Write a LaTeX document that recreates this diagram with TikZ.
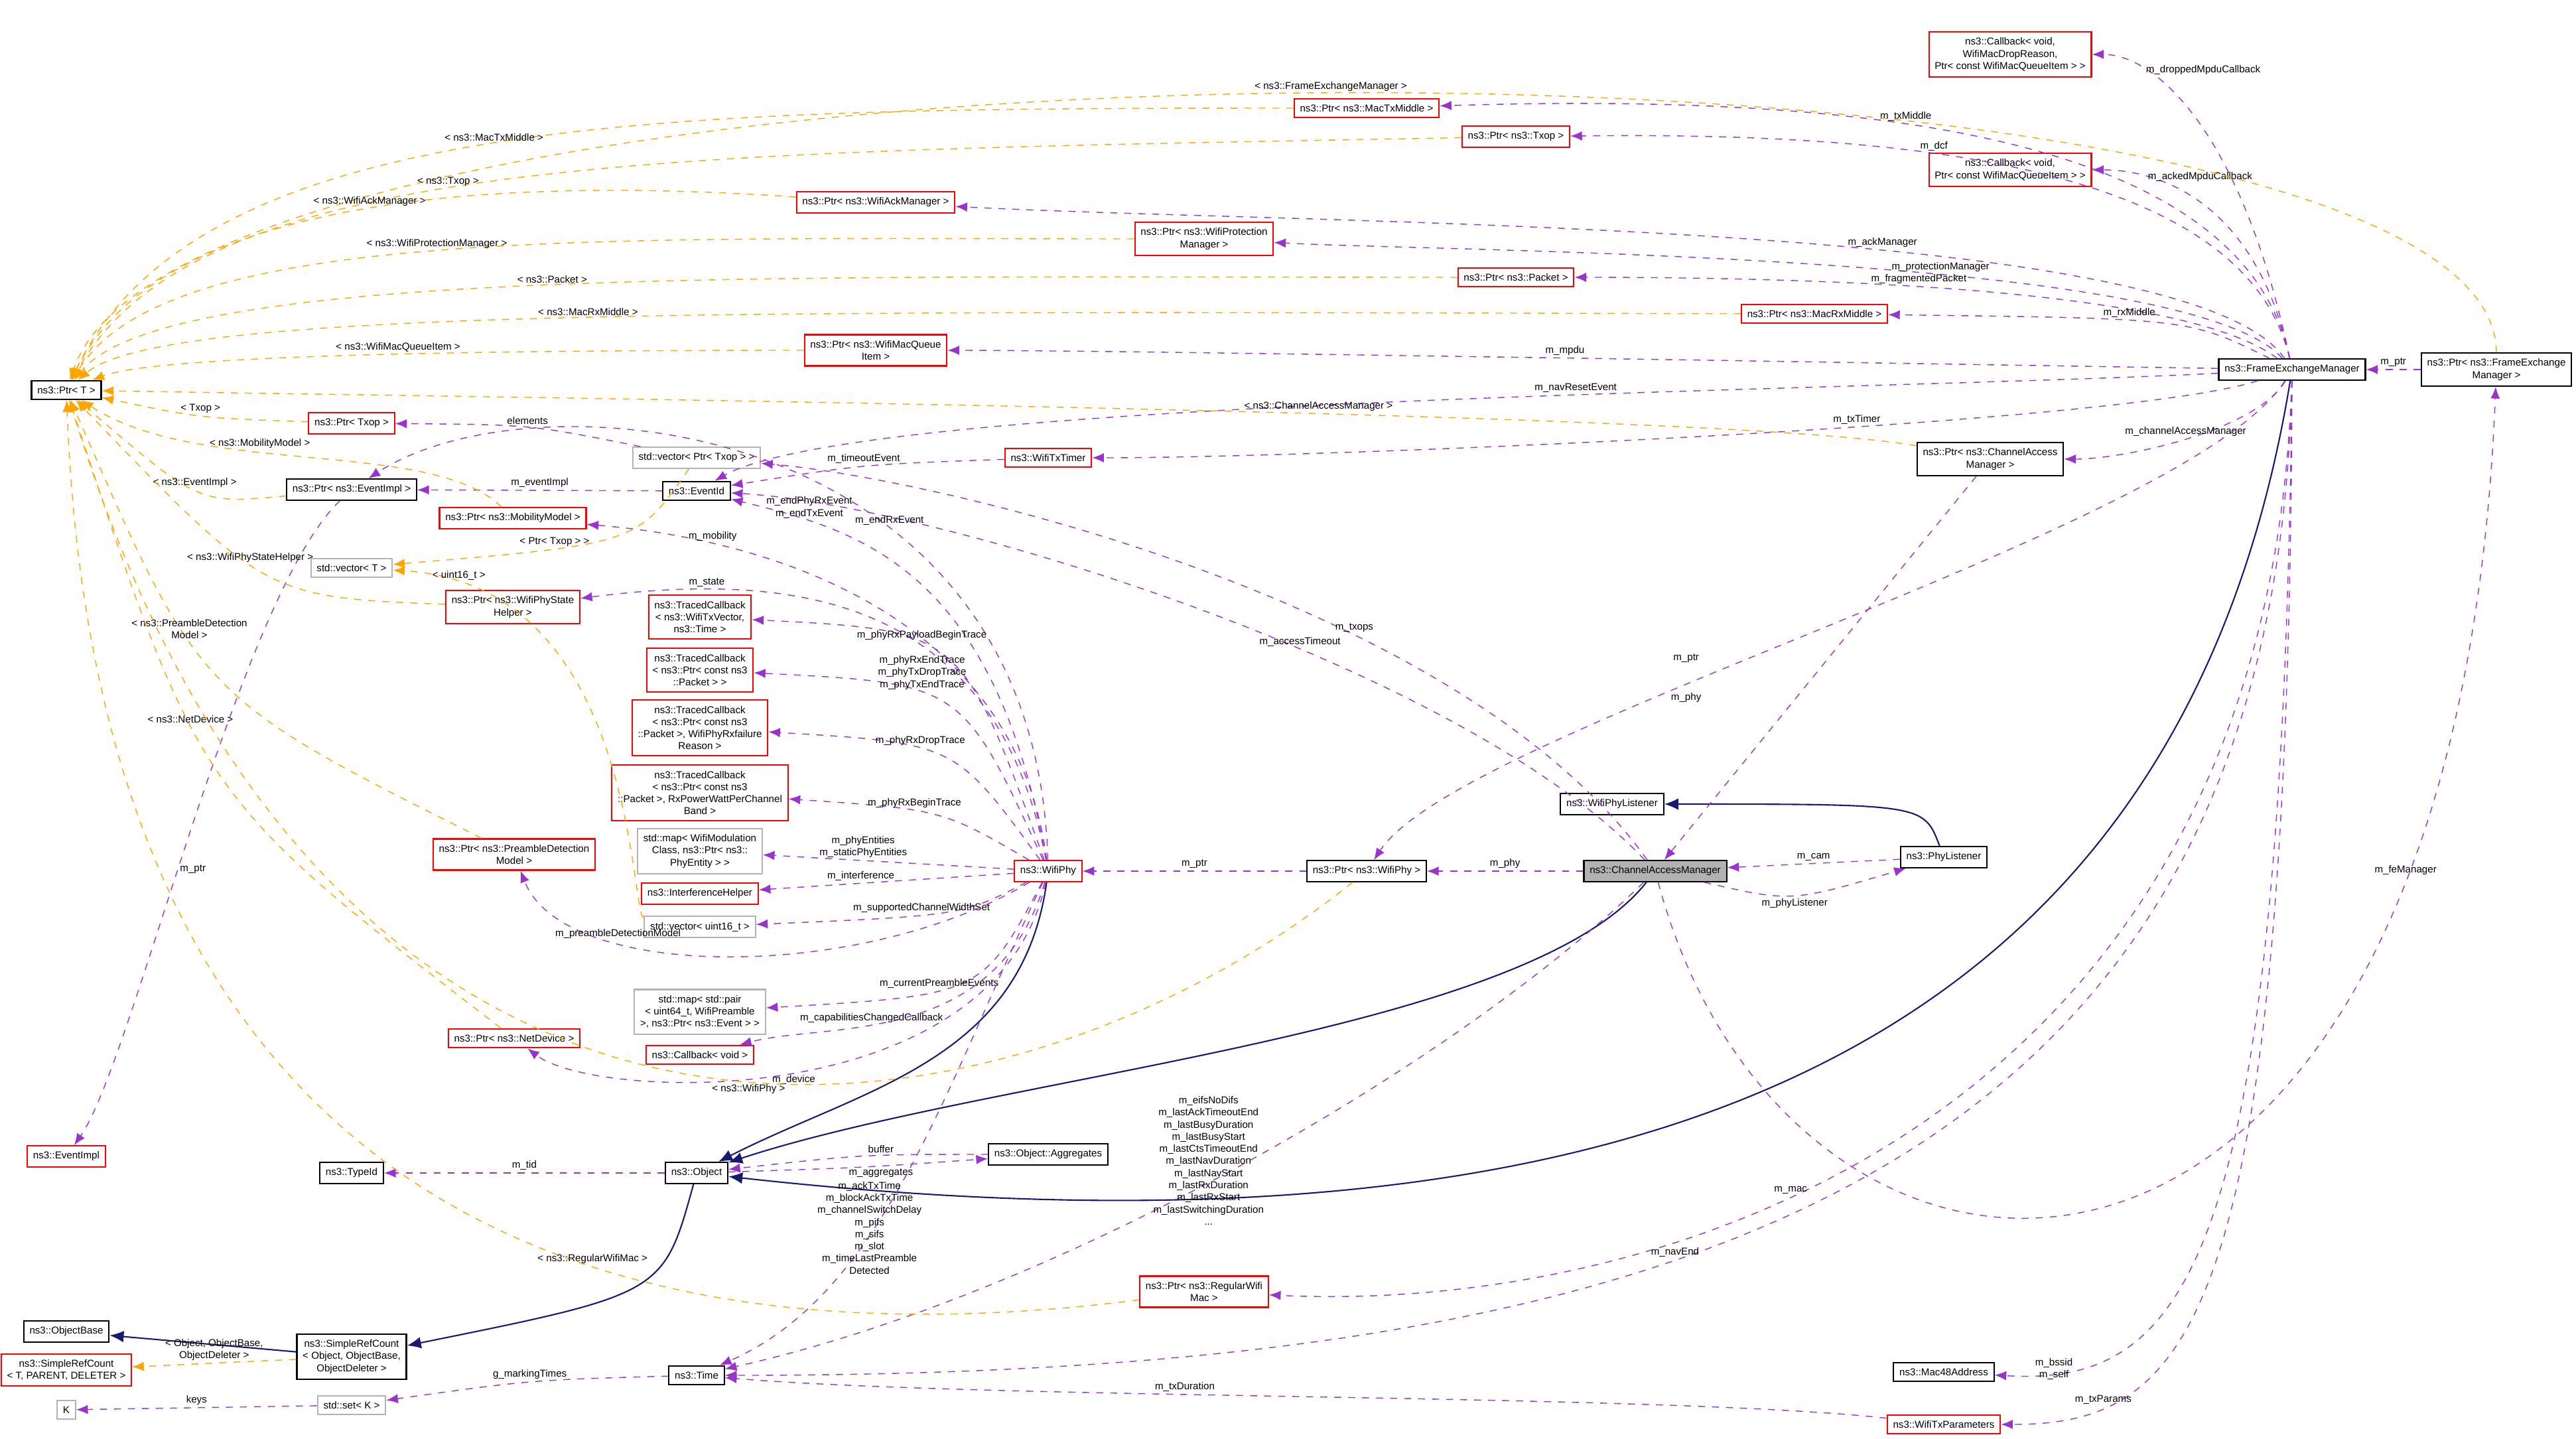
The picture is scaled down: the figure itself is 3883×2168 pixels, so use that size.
\documentclass[tikz,border=0pt]{standalone}
\usepackage{fontspec}
\setmainfont{Liberation Sans}
\usetikzlibrary{arrows.meta}
\definecolor{mempurple}{HTML}{9A32CD}
\definecolor{tplorange}{HTML}{FFA500}
\definecolor{inhnavy}{HTML}{191970}
\tikzset{
  cls/.style={draw=black, semithick, fill=white, align=center, inner sep=2.5pt, font=\fontsize{4.3}{5.2}\selectfont},
  undoc/.style={cls, draw=red},
  ext/.style={cls, draw=gray!60},
  cur/.style={cls, fill=gray!60},
  mem/.style={draw=mempurple, dashed, -{Latex[length=5pt,width=4pt]}},
  tpl/.style={draw=tplorange, dashed, -{Latex[length=5pt,width=4pt]}},
  inh/.style={draw=inhnavy, semithick, -{Latex[length=6pt,width=5pt]}},
  lbl/.style={font=\fontsize{4.3}{5.2}\selectfont, align=center, inner sep=1pt, text=black}
}
\begin{document}
\begin{tikzpicture}[x=0.01cm,y=-0.01cm]
  \useasboundingbox (0,0) rectangle (3883,2168);
  % classes
  \node[cls] (ptrT) at (100,588) {ns3::Ptr< T >};
  \node[undoc] (cbDrop) at (3030,82) {ns3::Callback< void,\\ WifiMacDropReason,\\ Ptr< const WifiMacQueueItem > >};
  \node[undoc] (ptrMacTx) at (2060,163) {ns3::Ptr< ns3::MacTxMiddle >};
  \node[undoc] (ptrTxop) at (2285,206) {ns3::Ptr< ns3::Txop >};
  \node[undoc] (cbAcked) at (3030,256) {ns3::Callback< void,\\ Ptr< const WifiMacQueueItem > >};
  \node[undoc] (ptrAck) at (1320,305) {ns3::Ptr< ns3::WifiAckManager >};
  \node[undoc] (ptrProt) at (1815,360) {ns3::Ptr< ns3::WifiProtection\\ Manager >};
  \node[undoc] (ptrPacket) at (2285,418) {ns3::Ptr< ns3::Packet >};
  \node[undoc] (ptrMacRx) at (2735,473) {ns3::Ptr< ns3::MacRxMiddle >};
  \node[undoc] (ptrQItem) at (1320,528) {ns3::Ptr< ns3::WifiMacQueue\\ Item >};
  \node[cls] (fem) at (3455,557) {ns3::FrameExchangeManager};
  \node[cls] (ptrFem) at (3763,557) {ns3::Ptr< ns3::FrameExchange\\ Manager >};
  \node[undoc] (ptrTxopB) at (530,638) {ns3::Ptr< Txop >};
  \node[ext] (vecPtrTxop) at (1050,690) {std::vector< Ptr< Txop > >};
  \node[undoc] (timer) at (1580,690) {ns3::WifiTxTimer};
  \node[cls] (ptrCam) at (3000,692) {ns3::Ptr< ns3::ChannelAccess\\ Manager >};
  \node[cls] (ptrEvImpl) at (530,738) {ns3::Ptr< ns3::EventImpl >};
  \node[cls] (eventId) at (1050,740) {ns3::EventId};
  \node[undoc] (ptrMob) at (773,781) {ns3::Ptr< ns3::MobilityModel >};
  \node[ext] (vecT) at (530,856) {std::vector< T >};
  \node[undoc] (ptrState) at (773,915) {ns3::Ptr< ns3::WifiPhyState\\ Helper >};
  \node[undoc] (tcA) at (1055,930) {ns3::TracedCallback\\ < ns3::WifiTxVector,\\ ns3::Time >};
  \node[undoc] (tcB) at (1055,1010) {ns3::TracedCallback\\ < ns3::Ptr< const ns3\\ ::Packet > >};
  \node[undoc] (tcC) at (1055,1097) {ns3::TracedCallback\\ < ns3::Ptr< const ns3\\ ::Packet >, WifiPhyRxfailure\\ Reason >};
  \node[undoc] (tcD) at (1055,1195) {ns3::TracedCallback\\ < ns3::Ptr< const ns3\\ ::Packet >, RxPowerWattPerChannel\\ Band >};
  \node[ext] (mapMod) at (1055,1283) {std::map< WifiModulation\\ Class, ns3::Ptr< ns3::\\ PhyEntity > >};
  \node[undoc] (intf) at (1055,1347) {ns3::InterferenceHelper};
  \node[ext] (vecU16) at (1055,1397) {std::vector< uint16\_t >};
  \node[undoc] (ptrPre) at (775,1288) {ns3::Ptr< ns3::PreambleDetection\\ Model >};
  \node[undoc] (wifiPhy) at (1580,1313) {ns3::WifiPhy};
  \node[cls] (ptrWifiPhy) at (2060,1313) {ns3::Ptr< ns3::WifiPhy >};
  \node[cur] (cam) at (2495,1313) {ns3::ChannelAccessManager};
  \node[cls] (phyL) at (2430,1212) {ns3::WifiPhyListener};
  \node[cls] (phyListener) at (2930,1292) {ns3::PhyListener};
  \node[ext] (mapPair) at (1055,1525) {std::map< std::pair\\ < uint64\_t, WifiPreamble\\ >, ns3::Ptr< ns3::Event > >};
  \node[undoc] (cbVoid) at (1055,1590) {ns3::Callback< void >};
  \node[undoc] (ptrNetDev) at (775,1565) {ns3::Ptr< ns3::NetDevice >};
  \node[undoc] (evImpl) at (100,1743) {ns3::EventImpl};
  \node[cls] (typeId) at (530,1768) {ns3::TypeId};
  \node[cls] (object) at (1050,1768) {ns3::Object};
  \node[cls] (aggr) at (1580,1740) {ns3::Object::Aggregates};
  \node[cls] (objBase) at (100,2007) {ns3::ObjectBase};
  \node[cls] (src) at (530,2045) {ns3::SimpleRefCount\\ < Object, ObjectBase,\\ ObjectDeleter >};
  \node[undoc] (srcT) at (100,2065) {ns3::SimpleRefCount\\ < T, PARENT, DELETER >};
  \node[ext] (kay) at (100,2125) {K};
  \node[ext] (setK) at (530,2118) {std::set< K >};
  \node[cls] (time) at (1050,2073) {ns3::Time};
  \node[undoc] (ptrMac) at (1815,1947) {ns3::Ptr< ns3::RegularWifi\\ Mac >};
  \node[cls] (mac48) at (2930,2068) {ns3::Mac48Address};
  \node[undoc] (txParams) at (2930,2147) {ns3::WifiTxParameters};

  % inheritance
  \draw[inh] (wifiPhy) .. controls (1540,1600) and (1300,1640) .. (object);
  \draw[inh] (cam) .. controls (2300,1560) and (1500,1620) .. (object);
  \draw[inh] (fem) .. controls (3300,1500) and (2600,1940) .. (object);
  \draw[inh] (phyListener) .. controls (2900,1212) .. (phyL);
  \draw[inh] (object) .. controls (1000,1950) .. (src);
  \draw[inh] (src) -- (objBase);

  % members of FrameExchangeManager
  \draw[mem] (fem) .. controls (3380,200) and (3250,82) .. node[lbl,right,pos=0.75]{m\_droppedMpduCallback} (cbDrop);
  \draw[mem] (fem) .. controls (3380,200) and (2800,140) .. node[lbl,above,pos=0.6]{m\_txMiddle} (ptrMacTx);
  \draw[mem] (fem) .. controls (3380,230) and (2800,200) .. node[lbl,above,pos=0.6]{m\_dcf} (ptrTxop);
  \draw[mem] (fem) .. controls (3400,300) and (3250,256) .. node[lbl,right,pos=0.75]{m\_ackedMpduCallback} (cbAcked);
  \draw[mem] (fem) .. controls (3300,330) and (2000,340) .. node[lbl,above,pos=0.4]{m\_ackManager} (ptrAck);
  \draw[mem] (fem) .. controls (3300,380) and (2200,380) .. node[lbl,above,pos=0.4]{m\_protectionManager} (ptrProt);
  \draw[mem] (fem) .. controls (3300,440) and (2800,418) .. node[lbl,above,pos=0.6]{m\_fragmentedPacket} (ptrPacket);
  \draw[mem] (fem) .. controls (3300,480) .. node[lbl,above,pos=0.6]{m\_rxMiddle} (ptrMacRx);
  \draw[mem] (fem) .. controls (3000,550) and (1700,528) .. node[lbl,above,pos=0.5]{m\_mpdu} (ptrQItem);
  \draw[mem] (fem) .. controls (2800,590) and (1300,600) .. node[lbl,above,pos=0.4]{m\_navResetEvent} (eventId);
  \draw[mem] (fem) .. controls (3200,640) and (2000,690) .. node[lbl,above,pos=0.4]{m\_txTimer} (timer);
  \draw[mem] (fem) .. controls (3400,650) and (3200,692) .. node[lbl,above,pos=0.5]{m\_channelAccessManager} (ptrCam);
  \draw[mem] (fem) .. controls (3300,800) and (2200,1100) .. node[lbl,left,pos=0.6]{m\_ptr\\[12pt]m\_phy} (ptrWifiPhy);
  \draw[mem] (fem) .. controls (3420,1700) and (2500,1980) .. node[lbl,above,pos=0.6]{m\_mac} (ptrMac);
  \draw[mem] (fem) .. controls (3430,1800) and (2500,2073) .. node[lbl,above,pos=0.6]{m\_navEnd} (time);
  \draw[mem] (fem) .. controls (3440,1900) and (3300,2090) .. node[lbl,left,pos=0.85]{m\_bssid\\m\_self} (mac48);
  \draw[mem] (fem) .. controls (3450,2000) and (3300,2147) .. node[lbl,above,pos=0.8]{m\_txParams} (txParams);
  \draw[mem] (ptrFem) -- node[lbl,above]{m\_ptr} (fem);
  \draw[mem] (cam) .. controls (2700,2080) and (3700,2120) .. node[lbl,above,pos=0.8]{m\_feManager} (ptrFem);

  % members of ChannelAccessManager
  \draw[mem] (ptrCam) -- (cam);
  \draw[mem] (cam) -- node[lbl,above]{m\_phy} (ptrWifiPhy);
  \draw[mem] (cam) .. controls (2200,1000) and (1400,760) .. node[lbl,above,pos=0.4]{m\_accessTimeout} (eventId);
  \draw[mem] (cam) .. controls (2200,900) and (1400,720) .. node[lbl,above,pos=0.35]{m\_txops} (vecPtrTxop);
  \draw[mem] (cam) .. controls (2700,1360) .. node[lbl,below]{m\_phyListener} (phyListener);
  \draw[mem] (phyListener) -- node[lbl,above]{m\_cam} (cam);
  \draw[mem] (cam) .. controls (2200,1600) and (1600,1950) .. node[lbl,pos=0.45,xshift=-35pt,yshift=-10pt]{m\_eifsNoDifs\\m\_lastAckTimeoutEnd\\m\_lastBusyDuration\\m\_lastBusyStart\\m\_lastCtsTimeoutEnd\\m\_lastNavDuration\\m\_lastNavStart\\m\_lastRxDuration\\m\_lastRxStart\\m\_lastSwitchingDuration\\...} (time);

  % members of WifiPhy
  \draw[mem] (ptrWifiPhy) -- node[lbl,above]{m\_ptr} (wifiPhy);
  \draw[mem] (wifiPhy) .. controls (1500,860) and (1300,800) .. node[lbl,above,pos=0.8]{m\_endPhyRxEvent\\m\_endTxEvent} (eventId);
  \draw[mem] (wifiPhy) .. controls (1560,620) and (800,560) .. node[lbl,above,pos=0.35]{m\_endRxEvent} (ptrEvImpl);
  \draw[mem] (wifiPhy) .. controls (1520,850) and (1000,800) .. node[lbl,above,pos=0.7]{m\_mobility} (ptrMob);
  \draw[mem] (wifiPhy) .. controls (1500,900) and (1200,860) .. node[lbl,above,pos=0.8]{m\_state} (ptrState);
  \draw[mem] (wifiPhy) .. controls (1450,950) .. node[lbl,above,pos=0.6]{m\_phyRxPayloadBeginTrace} (tcA);
  \draw[mem] (wifiPhy) .. controls (1450,1030) .. node[lbl,above,pos=0.6]{m\_phyRxEndTrace\\m\_phyTxDropTrace\\m\_phyTxEndTrace} (tcB);
  \draw[mem] (wifiPhy) .. controls (1440,1120) .. node[lbl,above,pos=0.6]{m\_phyRxDropTrace} (tcC);
  \draw[mem] (wifiPhy) .. controls (1420,1220) .. node[lbl,above,pos=0.6]{m\_phyRxBeginTrace} (tcD);
  \draw[mem] (wifiPhy) -- node[lbl,above,pos=0.6]{m\_phyEntities\\m\_staticPhyEntities} (mapMod);
  \draw[mem] (wifiPhy) -- node[lbl,above,pos=0.6]{m\_interference} (intf);
  \draw[mem] (wifiPhy) .. controls (1450,1380) .. node[lbl,above,pos=0.6]{m\_supportedChannelWidthSet} (vecU16);
  \draw[mem] (wifiPhy) .. controls (1300,1480) and (850,1480) .. node[lbl,above,pos=0.7]{m\_preambleDetectionModel} (ptrPre);
  \draw[mem] (wifiPhy) .. controls (1480,1500) .. node[lbl,above,pos=0.6]{m\_currentPreambleEvents} (mapPair);
  \draw[mem] (wifiPhy) .. controls (1500,1580) and (1250,1540) .. node[lbl,above,pos=0.6]{m\_capabilitiesChangedCallback} (cbVoid);
  \draw[mem] (wifiPhy) .. controls (1500,1680) and (900,1660) .. node[lbl,below,pos=0.5]{m\_device} (ptrNetDev);
  \draw[mem] (wifiPhy) .. controls (1420,1650) and (1330,1950) .. node[lbl,pos=0.5,xshift=-15pt,yshift=-22pt]{m\_ackTxTime\\m\_blockAckTxTime\\m\_channelSwitchDelay\\m\_pifs\\m\_sifs\\m\_slot\\m\_timeLastPreamble\\Detected} (time);

  % other members
  \draw[mem] (vecPtrTxop) .. controls (800,640) .. node[lbl,above]{elements} (ptrTxopB);
  \draw[mem] (eventId) -- node[lbl,above]{m\_eventImpl} (ptrEvImpl);
  \draw[mem] (timer) .. controls (1300,700) .. node[lbl,above]{m\_timeoutEvent} (eventId);
  \draw[mem] (ptrEvImpl) .. controls (360,900) and (200,1600) .. node[lbl,right,pos=0.55]{m\_ptr} (evImpl);
  \draw[mem] (object) -- node[lbl,above]{m\_tid} (typeId);
  \draw[mem] (aggr) .. controls (1300,1740) .. node[lbl,above,pos=0.4]{buffer} (object);
  \draw[mem] (object) .. controls (1300,1760) .. node[lbl,below,pos=0.6]{m\_aggregates} (aggr);
  \draw[mem] (time) .. controls (800,2080) .. node[lbl,above]{g\_markingTimes} (setK);
  \draw[mem] (setK) -- node[lbl,above]{keys} (kay);
  \draw[mem] (txParams) .. controls (2500,2100) and (1500,2110) .. node[lbl,above,pos=0.6]{m\_txDuration} (time);

  % template instances
  \draw[tpl] (ptrFem) .. controls (3760,0) and (300,10) .. node[lbl,above,pos=0.5]{< ns3::FrameExchangeManager >} (ptrT);
  \draw[tpl] (ptrMacTx) .. controls (1000,163) and (300,170) .. node[lbl,above,pos=0.5]{< ns3::MacTxMiddle >} (ptrT);
  \draw[tpl] (ptrTxop) .. controls (1000,230) and (300,230) .. node[lbl,above,pos=0.55]{< ns3::Txop >} (ptrT);
  \draw[tpl] (ptrAck) .. controls (800,270) and (250,280) .. node[lbl,above,pos=0.5]{< ns3::WifiAckManager >} (ptrT);
  \draw[tpl] (ptrProt) .. controls (900,360) and (250,340) .. node[lbl,above,pos=0.5]{< ns3::WifiProtectionManager >} (ptrT);
  \draw[tpl] (ptrPacket) .. controls (1200,418) and (250,400) .. node[lbl,above,pos=0.5]{< ns3::Packet >} (ptrT);
  \draw[tpl] (ptrMacRx) .. controls (1200,470) and (250,460) .. node[lbl,above,pos=0.5]{< ns3::MacRxMiddle >} (ptrT);
  \draw[tpl] (ptrQItem) .. controls (900,528) and (250,530) .. node[lbl,above,pos=0.5]{< ns3::WifiMacQueueItem >} (ptrT);
  \draw[tpl] (ptrCam) .. controls (2600,620) and (800,600) .. node[lbl,above,pos=0.4]{< ns3::ChannelAccessManager >} (ptrT);
  \draw[tpl] (ptrTxopB) .. controls (300,630) .. node[lbl,above]{< Txop >} (ptrT);
  \draw[tpl] (ptrMob) .. controls (650,660) and (300,720) .. node[lbl,above,pos=0.6]{< ns3::MobilityModel >} (ptrT);
  \draw[tpl] (ptrEvImpl) .. controls (300,760) .. node[lbl,above,pos=0.5]{< ns3::EventImpl >} (ptrT);
  \draw[tpl] (ptrState) .. controls (400,900) .. node[lbl,above,pos=0.55]{< ns3::WifiPhyStateHelper >} (ptrT);
  \draw[tpl] (ptrPre) .. controls (300,1050) .. node[lbl,above,pos=0.6]{< ns3::PreambleDetection\\Model >} (ptrT);
  \draw[tpl] (ptrNetDev) .. controls (300,1200) .. node[lbl,above,pos=0.6]{< ns3::NetDevice >} (ptrT);
  \draw[tpl] (ptrWifiPhy) .. controls (1500,1760) and (500,1900) .. node[lbl,below,pos=0.45]{< ns3::WifiPhy >} (ptrT);
  \draw[tpl] (ptrMac) .. controls (1000,2050) and (150,1900) .. node[lbl,above,pos=0.38]{< ns3::RegularWifiMac >} (ptrT);
  \draw[tpl] (vecPtrTxop) .. controls (960,820) .. node[lbl,above,pos=0.7]{< Ptr< Txop > >} (vecT);
  \draw[tpl] (vecU16) .. controls (950,1380) and (960,880) .. node[lbl,above,pos=0.9]{< uint16\_t >} (vecT);
  \draw[tpl] (src) -- node[lbl,above]{< Object, ObjectBase,\\ObjectDeleter >} (srcT);
\end{tikzpicture}
\end{document}
